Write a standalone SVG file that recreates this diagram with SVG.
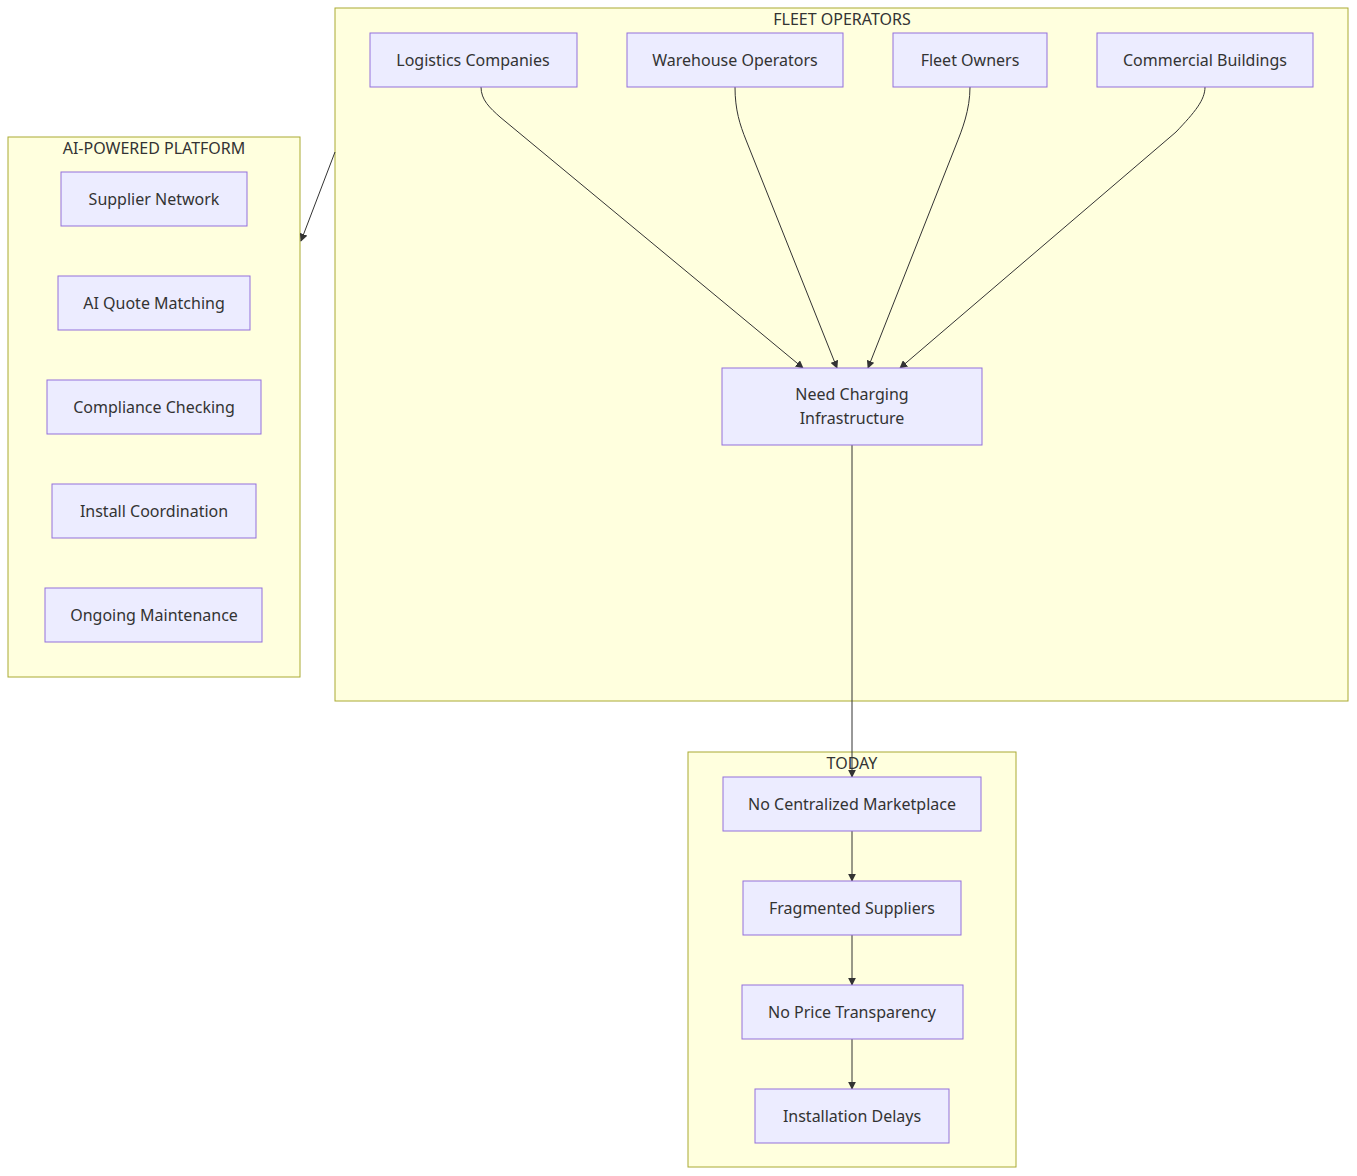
<svg xmlns="http://www.w3.org/2000/svg" width="1357" height="1176" viewBox="0 0 1357 1176">
<style>
.c{fill:#ffffde;stroke:#aaaa33;stroke-width:1}
.n{fill:#ECECFF;stroke:#9370DB;stroke-width:1}
text{font-family:"Noto Sans","Liberation Sans",sans-serif;font-size:16px;fill:#333;text-anchor:middle;dominant-baseline:central}
.e{fill:none;stroke:#333;stroke-width:1;marker-end:url(#a)}
</style>
<defs><marker id="a" viewBox="0 0 10 10" refX="9" refY="5" markerWidth="8" markerHeight="8" orient="auto"><path d="M0,0L10,5L0,10z" fill="#333"/></marker></defs>
<rect width="1357" height="1176" fill="#fff"/>
<g id="fleet"><rect class="c" x="335" y="8" width="1013" height="693"/><text x="842" y="19">FLEET OPERATORS</text></g>
<g id="ai"><rect class="c" x="8" y="137" width="292" height="540"/><text x="154" y="148">AI-POWERED PLATFORM</text></g>
<g id="today"><rect class="c" x="688" y="752" width="328" height="415"/><text x="852" y="763">TODAY</text></g>
<g id="edges">
<path class="e" d="M481,87C481,100 490,108 500,117L803,368"/>
<path class="e" d="M735,87C735,110 740,125 746,140L837,368"/>
<path class="e" d="M970,87C970,110 962,130 956,145L868,368"/>
<path class="e" d="M1205,87C1205,100 1195,112 1176,132L900,368"/>
<path class="e" d="M852,445L852,777"/>
<path class="e" d="M335,152L301,241"/>
<path class="e" d="M852,831L852,881"/>
<path class="e" d="M852,935L852,985"/>
<path class="e" d="M852,1039L852,1089"/>
</g>
<g id="n1"><rect class="n" x="370" y="33" width="207" height="54"/><text x="473" y="60">Logistics Companies</text></g>
<g id="n2"><rect class="n" x="627" y="33" width="216" height="54"/><text x="735" y="60">Warehouse Operators</text></g>
<g id="n3"><rect class="n" x="893" y="33" width="154" height="54"/><text x="970" y="60">Fleet Owners</text></g>
<g id="n4"><rect class="n" x="1097" y="33" width="216" height="54"/><text x="1205" y="60">Commercial Buildings</text></g>
<g id="n5"><rect class="n" x="722" y="368" width="260" height="77"/><text x="852" y="394">Need Charging</text><text x="852" y="418">Infrastructure</text></g>
<g id="a1"><rect class="n" x="61" y="172" width="186" height="54"/><text x="154" y="199">Supplier Network</text></g>
<g id="a2"><rect class="n" x="58" y="276" width="192" height="54"/><text x="154" y="303">AI Quote Matching</text></g>
<g id="a3"><rect class="n" x="47" y="380" width="214" height="54"/><text x="154" y="407">Compliance Checking</text></g>
<g id="a4"><rect class="n" x="52" y="484" width="204" height="54"/><text x="154" y="511">Install Coordination</text></g>
<g id="a5"><rect class="n" x="45" y="588" width="217" height="54"/><text x="154" y="615">Ongoing Maintenance</text></g>
<g id="t1"><rect class="n" x="723" y="777" width="258" height="54"/><text x="852" y="804">No Centralized Marketplace</text></g>
<g id="t2"><rect class="n" x="743" y="881" width="218" height="54"/><text x="852" y="908">Fragmented Suppliers</text></g>
<g id="t3"><rect class="n" x="742" y="985" width="221" height="54"/><text x="852" y="1012">No Price Transparency</text></g>
<g id="t4"><rect class="n" x="755" y="1089" width="194" height="54"/><text x="852" y="1116">Installation Delays</text></g>
</svg>
